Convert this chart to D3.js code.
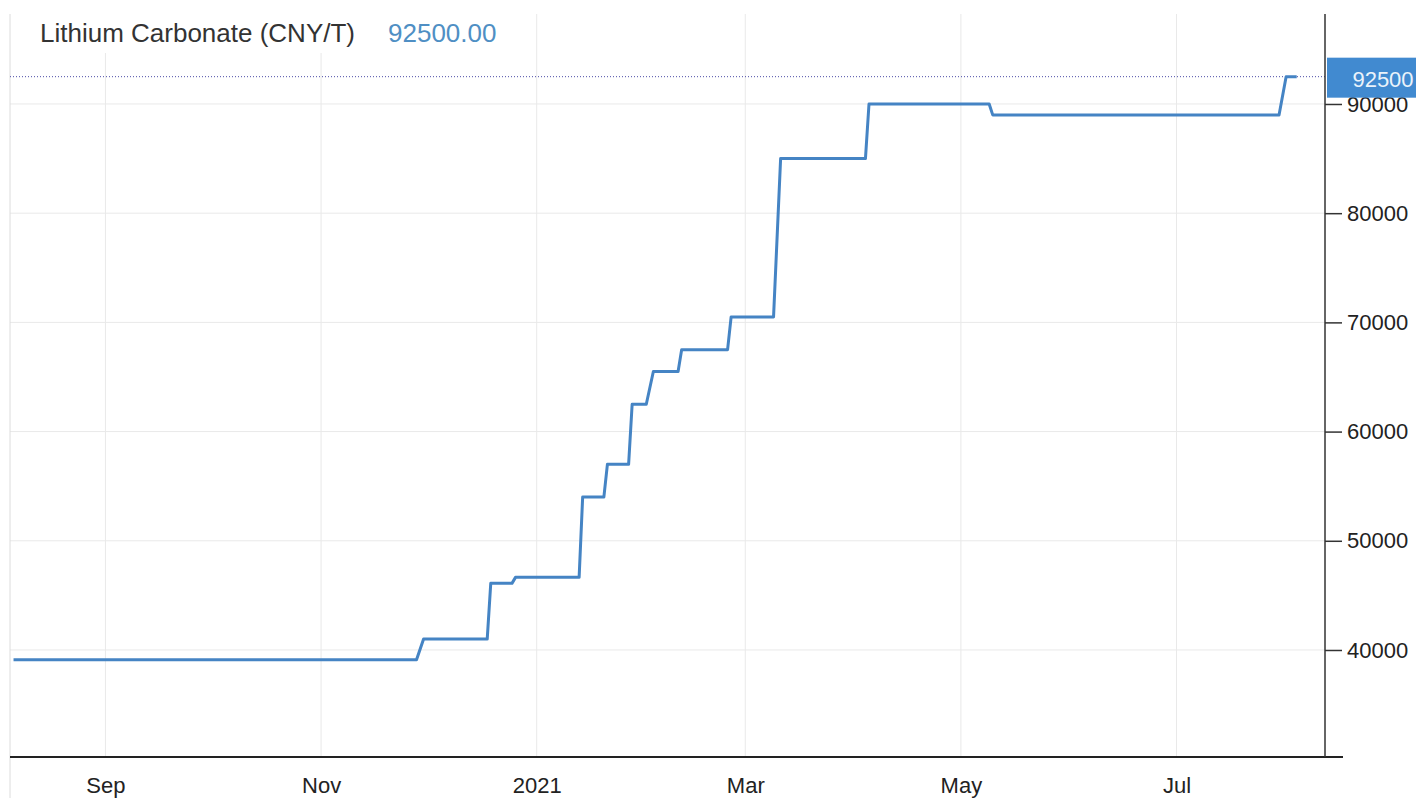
<!DOCTYPE html>
<html>
<head>
<meta charset="utf-8">
<script src="https://cdn.jsdelivr.net/npm/d3@7"></script>
<style>
  body { margin: 0; background: #fff; }
  text { font-family: "Liberation Sans", Arial, sans-serif; }
</style>
</head>
<body>
<div class="chart"></div>
<script>
var width = 1416;
var height = 798;

// step points of the price line
var dates = ['2020-08-06','2020-11-28','2020-11-30','2020-12-18','2020-12-19','2020-12-25','2020-12-26',
  '2021-01-13','2021-01-14','2021-01-20','2021-01-21','2021-01-27','2021-01-28','2021-02-01','2021-02-03',
  '2021-02-10','2021-02-11','2021-02-24','2021-02-25','2021-03-09','2021-03-11','2021-04-04','2021-04-05',
  '2021-05-09','2021-05-10','2021-07-30','2021-08-01','2021-08-04'];
var prices = [39100,39100,41000,41000,46100,46100,46650,
  46650,54000,54000,57000,57000,62500,62500,65500,
  65500,67500,67500,70500,70500,85000,85000,90000,
  90000,89000,89000,92500,92500];
var yTicks = [40000,50000,60000,70000,80000,90000];
var title = 'Lithium Carbonate (CNY/T)';
var lastValue = 92500;

var parse = d3.timeParse('%Y-%m-%d');
var data = dates.map(function(d, i){ return {date: parse(d), value: prices[i]} });

var pLeft = 10, pRight = 1325, pTop = 14, pBottom = 757;

var svg = d3.select('div.chart').append('svg')
    .attr('width', width)
    .attr('height', height)

var x_scale = d3.scaleTime()
    .domain([parse('2020-08-05'), parse('2021-08-12')])
    .range([pLeft, pRight])
var y_scale = d3.scaleLinear()
    .domain([30200, 98240])
    .range([pBottom, pTop])

var xTicks = x_scale.ticks(d3.timeMonth.every(2))
var fmt = function(d){ return d.getMonth() == 0 ? d3.timeFormat('%Y')(d) : d3.timeFormat('%b')(d) }

//grid
svg.append('g').selectAll('line')
    .data(xTicks)
    .enter()
    .append('line')
    .attr('x1', function(d){ return x_scale(d) })
    .attr('x2', function(d){ return x_scale(d) })
    .attr('y1', pTop)
    .attr('y2', pBottom)
    .attr('stroke', '#e9e9e9')
svg.append('g').selectAll('line')
    .data(yTicks)
    .enter()
    .append('line')
    .attr('x1', pLeft)
    .attr('x2', pRight)
    .attr('y1', function(d){ return y_scale(d) })
    .attr('y2', function(d){ return y_scale(d) })
    .attr('stroke', '#e9e9e9')

// left border
svg.append('line')
    .attr('x1', pLeft).attr('x2', pLeft)
    .attr('y1', pTop).attr('y2', height)
    .attr('stroke', '#dcdcdc')

// title box
svg.append('rect')
    .attr('x', pLeft + 1).attr('y', pTop)
    .attr('width', 505).attr('height', 39)
    .attr('fill', '#fff')
svg.append('text')
    .attr('x', 40).attr('y', 42)
    .style('font-size', '26px')
    .attr('fill', '#333')
    .text(title)
svg.append('text')
    .attr('x', 388).attr('y', 42)
    .style('font-size', '26px')
    .attr('fill', '#4f8fc4')
    .text(d3.format('.2f')(lastValue))

// last value dotted line
svg.append('line')
    .attr('x1', pLeft).attr('x2', pRight)
    .attr('y1', y_scale(lastValue)).attr('y2', y_scale(lastValue))
    .attr('stroke', '#4a4aa6')
    .attr('stroke-dasharray', '1,2')

//line
var line = d3.line()
    .x(function(d){ return x_scale(d.date) })
    .y(function(d){ return y_scale(d.value) })
svg.append('path')
    .datum(data)
    .attr('d', line)
    .attr('fill', 'none')
    .attr('stroke', '#4584c4')
    .attr('stroke-width', 3)
    .attr('stroke-linejoin', 'round')

//axes
var x_axis = d3.axisBottom(x_scale).tickValues(xTicks).tickFormat(fmt).tickSize(0).tickPadding(20)
var y_axis = d3.axisRight(y_scale).tickValues(yTicks).tickFormat(d3.format('d')).tickSize(17).tickPadding(5)

svg.append('g')
    .attr('class', 'x-axis')
    .attr('transform', 'translate(0,' + pBottom + ')')
    .call(x_axis)
svg.append('g')
    .attr('class', 'y-axis')
    .attr('transform', 'translate(' + pRight + ',0)')
    .call(y_axis)
svg.selectAll('.domain').remove()
svg.selectAll('.x-axis text, .y-axis text')
    .style('font-size', '22px')
    .style('font-family', '"Liberation Sans", Arial, sans-serif')
    .attr('fill', '#222')
svg.selectAll('.y-axis line').attr('stroke', '#333').attr('stroke-width', 1.5)

svg.append('line')
    .attr('x1', pLeft).attr('x2', pRight + 18)
    .attr('y1', pBottom).attr('y2', pBottom)
    .attr('stroke', '#222').attr('stroke-width', 2)
svg.append('line')
    .attr('x1', pRight).attr('x2', pRight)
    .attr('y1', pTop).attr('y2', pBottom)
    .attr('stroke', '#333').attr('stroke-width', 1.5)

// last value label
svg.append('rect')
    .attr('x', pRight + 2).attr('y', y_scale(lastValue) - 19)
    .attr('width', width - pRight - 2).attr('height', 40)
    .attr('fill', '#418ad0')
svg.append('text')
    .attr('x', 1383).attr('y', y_scale(lastValue) + 10)
    .style('text-anchor', 'middle')
    .style('font-size', '22px')
    .attr('fill', '#eaf3fb')
    .text(lastValue)
</script>
</body>
</html>
